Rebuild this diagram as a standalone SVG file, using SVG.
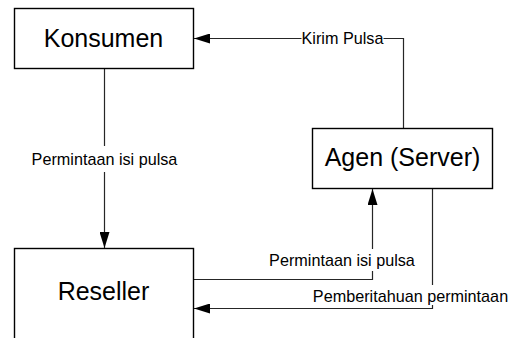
<svg xmlns="http://www.w3.org/2000/svg" width="519" height="338" viewBox="0 0 519 338">
  <style>
    .box { fill: #ffffff; stroke: #000000; stroke-width: 1.4; }
    .title { font-family: "Liberation Sans", Arial, sans-serif; font-size: 25px; fill: #000000; text-anchor: middle; }
    .wire { fill: none; stroke: #262626; stroke-width: 1.2; }
    .lbl { font-family: "Liberation Sans", Arial, sans-serif; font-size: 16.2px; fill: #000000; text-anchor: middle; }
    .lblbg { fill: #ffffff; }
  </style>
  <defs>
    <marker id="arrow" viewBox="0 0 16 10" refX="16" refY="5" markerWidth="16" markerHeight="10" markerUnits="userSpaceOnUse" orient="auto">
      <path d="M0,0 L16,5 L0,10 Z" fill="#000000"/>
    </marker>
  </defs>
  <rect width="519" height="338" fill="#ffffff"/>

  <!-- connectors -->
  <g id="connectors">
    <!-- Konsumen to Reseller -->
    <path class="wire" d="M104.5,68 V248" marker-end="url(#arrow)"/>
    <rect class="lblbg" x="28" y="146" width="153" height="26"/>
    <text class="lbl" x="104.5" y="165">Permintaan isi pulsa</text>

    <!-- Agen to Konsumen -->
    <path class="wire" d="M403.5,128 V38.5 H194" marker-end="url(#arrow)"/>
    <rect class="lblbg" x="301.5" y="28" width="82" height="20"/>
    <text class="lbl" x="342.5" y="44">Kirim Pulsa</text>

    <!-- Reseller to Agen -->
    <path class="wire" d="M193,279.5 H372.5 V189" marker-end="url(#arrow)"/>
    <rect class="lblbg" x="265" y="249" width="154" height="22"/>
    <text class="lbl" x="342" y="266">Permintaan isi pulsa</text>

    <!-- Agen to Reseller -->
    <path class="wire" d="M432.5,189 V308.5 H194" marker-end="url(#arrow)"/>
    <rect class="lblbg" x="308" y="285" width="206" height="20"/>
    <text class="lbl" x="410.5" y="302">Pemberitahuan permintaan</text>
  </g>

  <!-- nodes -->
  <g id="konsumen">
    <rect class="box" x="14.5" y="8.5" width="179" height="60"/>
    <text class="title" x="103.5" y="47">Konsumen</text>
  </g>
  <g id="reseller">
    <rect class="box" x="14.5" y="248.5" width="179" height="110"/>
    <text class="title" x="103.5" y="300">Reseller</text>
  </g>
  <g id="agen">
    <rect class="box" x="312.5" y="128.5" width="180" height="60"/>
    <text class="title" x="402.5" y="166">Agen (Server)</text>
  </g>
</svg>
